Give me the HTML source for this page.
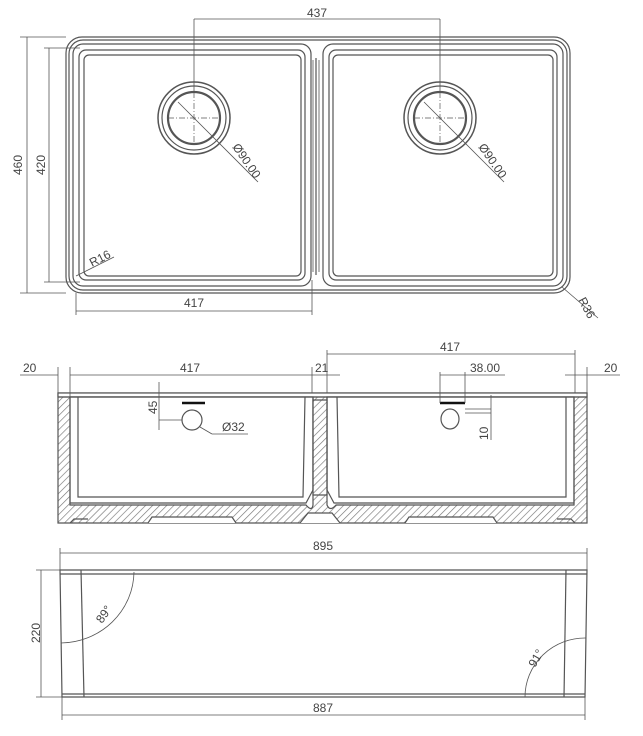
<!DOCTYPE html>
<html><head><meta charset="utf-8"><style>
html,body{margin:0;padding:0;background:#fff}
svg{display:block}
text{font-family:"Liberation Sans",sans-serif;font-size:12px;fill:#444}
</style></head><body>
<svg width="643" height="736" viewBox="0 0 643 736" xmlns="http://www.w3.org/2000/svg">
<defs>
<pattern id="h" width="5" height="5" patternUnits="userSpaceOnUse" patternTransform="rotate(45)">
<rect width="5" height="5" fill="#fff"/><line x1="0" y1="0" x2="0" y2="5" stroke="#777" stroke-width="1.3"/>
</pattern>
</defs>
<g fill="none" stroke="#555" stroke-width="1.2">
<!-- TOP VIEW -->
<rect x="66" y="37" width="504" height="256" rx="16"/>
<rect x="69" y="40" width="498" height="250" rx="14"/>
<rect x="73" y="44" width="238" height="242" rx="10"/>
<rect x="323" y="44" width="240" height="242" rx="10"/>
<rect x="79" y="50" width="226" height="230" rx="7"/>
<rect x="329" y="50" width="228" height="230" rx="7"/>
<rect x="84" y="55" width="217" height="221" rx="5"/>
<rect x="333" y="55" width="220" height="221" rx="5"/>
<line x1="316" y1="58" x2="316" y2="275"/>
<line x1="313" y1="60" x2="313" y2="272" stroke-width="0.8"/>
<line x1="319" y1="60" x2="319" y2="272" stroke-width="0.8"/>
<circle cx="194" cy="118" r="36" stroke-width="1.5"/><circle cx="194" cy="118" r="32"/><circle cx="194" cy="118" r="26" stroke-width="2.2"/>
<circle cx="440" cy="118" r="36" stroke-width="1.5"/><circle cx="440" cy="118" r="32"/><circle cx="440" cy="118" r="26" stroke-width="2.2"/>
<g stroke-width="0.7" stroke-dasharray="6 2 1 2">
<line x1="168" y1="118" x2="220" y2="118"/><line x1="194" y1="92" x2="194" y2="144"/>
<line x1="414" y1="118" x2="466" y2="118"/><line x1="440" y1="92" x2="440" y2="144"/>
</g>
<g stroke-width="0.8">
<line x1="194" y1="19" x2="194" y2="92"/><line x1="440" y1="19" x2="440" y2="92"/>
<line x1="194" y1="19" x2="440" y2="19"/>
<line x1="20" y1="37" x2="66" y2="37"/><line x1="20" y1="293" x2="66" y2="293"/>
<line x1="27" y1="37" x2="27" y2="293"/>
<line x1="44" y1="48" x2="80" y2="48"/><line x1="44" y1="282" x2="80" y2="282"/>
<line x1="49" y1="48" x2="49" y2="282"/>
<line x1="76" y1="293" x2="76" y2="315"/><line x1="312" y1="280" x2="312" y2="315"/>
<line x1="76" y1="311" x2="312" y2="311"/>
<line x1="178" y1="102" x2="258" y2="182"/><line x1="424" y1="102" x2="504" y2="182"/>
<line x1="76" y1="276" x2="114" y2="257"/>
<line x1="562" y1="287" x2="598" y2="318"/>
</g>
<!-- SECTION VIEW -->
<path d="M58 393 H587 V523 H58 Z" fill="url(#h)"/>
<rect x="58" y="393" width="529" height="4" fill="#fff"/>
<path d="M70 397 H313 L313 505 Q312 512 306 505 L70 505 Z" fill="#fff"/>
<path d="M327 397 H574 V505 H336 Q330 512 327 505 Z" fill="#fff"/>
<path d="M313 400 L313 495 L327 495 L327 400 Z" fill="url(#h)"/>
<path d="M70 397 V503 H306 L313 490 V397" />
<path d="M327 397 V490 L334 503 H574 V397"/>
<line x1="58" y1="397" x2="587" y2="397"/>
<path d="M78 397 V497 H303 L305 397"/>
<path d="M337 397 L339 497 H566 V397"/>
<path d="M148 523 L152 517 H232 L236 523" fill="#fff"/>
<path d="M405 523 L409 517 H493 L497 523" fill="#fff"/>
<path d="M300 523 L308 513 H332 L340 523" fill="#fff"/>
<path d="M70 523 L74 519 H88" /><path d="M575 523 L571 519 H557"/>
<line x1="182" y1="403" x2="205" y2="403" stroke="#111" stroke-width="2.5"/>
<line x1="440" y1="403" x2="465" y2="403" stroke="#111" stroke-width="2.5"/>
<circle cx="192" cy="420" r="10"/>
<ellipse cx="450" cy="419" rx="9" ry="10"/>
<g stroke-width="0.8">
<line x1="58" y1="367" x2="58" y2="393"/><line x1="70" y1="367" x2="70" y2="397"/>
<line x1="20" y1="375" x2="58" y2="375"/><line x1="70" y1="375" x2="312" y2="375"/>
<line x1="312" y1="367" x2="312" y2="393"/><line x1="327" y1="350" x2="327" y2="393"/>
<line x1="312" y1="375" x2="340" y2="375"/>
<line x1="327" y1="354" x2="575" y2="354"/><line x1="575" y1="350" x2="575" y2="393"/>
<line x1="587" y1="367" x2="587" y2="393"/><line x1="565" y1="375" x2="620" y2="375"/>
<line x1="440" y1="372" x2="440" y2="403"/><line x1="465" y1="372" x2="465" y2="403"/>
<line x1="440" y1="375" x2="505" y2="375"/>
<line x1="159" y1="382" x2="159" y2="430"/><line x1="159" y1="420" x2="182" y2="420"/>
<line x1="200" y1="427" x2="212" y2="434"/><line x1="212" y1="434" x2="248" y2="434"/>
<line x1="491" y1="395" x2="491" y2="440"/><line x1="465" y1="409" x2="491" y2="409"/><line x1="465" y1="413" x2="491" y2="413"/>
</g>
<!-- BOTTOM VIEW -->
<path d="M60 570 H587 L585 697 H62 Z"/>
<line x1="60" y1="574" x2="587" y2="574"/>
<line x1="62" y1="694" x2="585" y2="694"/>
<line x1="81" y1="570" x2="84" y2="697"/>
<line x1="566" y1="570" x2="564" y2="697"/>
<g stroke-width="0.8">
<line x1="60" y1="548" x2="60" y2="570"/><line x1="587" y1="548" x2="587" y2="570"/>
<line x1="60" y1="553" x2="587" y2="553"/>
<line x1="62" y1="697" x2="62" y2="720"/><line x1="585" y1="697" x2="585" y2="720"/>
<line x1="62" y1="715" x2="585" y2="715"/>
<line x1="36" y1="570" x2="60" y2="570"/><line x1="36" y1="697" x2="62" y2="697"/>
<line x1="41" y1="570" x2="41" y2="697"/>
<path d="M134 572 A74 72 0 0 1 61 643"/>
<path d="M525 697 A60 59 0 0 1 586 638"/>
</g>
</g>
<!-- texts -->
<text x="317" y="17" text-anchor="middle">437</text>
<text transform="translate(22,165) rotate(-90)" text-anchor="middle">460</text>
<text transform="translate(45,165) rotate(-90)" text-anchor="middle">420</text>
<text x="194" y="307" text-anchor="middle">417</text>
<text transform="translate(92,267) rotate(-27)">R16</text>
<text transform="translate(578,300) rotate(62)">R36</text>
<text transform="translate(232,147) rotate(55)">Ø90.00</text>
<text transform="translate(478,147) rotate(55)">Ø90.00</text>
<text x="23" y="372">20</text>
<text x="190" y="372" text-anchor="middle">417</text>
<text x="315" y="372">21</text>
<text x="450" y="351" text-anchor="middle">417</text>
<text x="470" y="372">38.00</text>
<text x="604" y="372">20</text>
<text transform="translate(157,414) rotate(-90)">45</text>
<text x="222" y="431">Ø32</text>
<text transform="translate(488,440) rotate(-90)">10</text>
<text x="323" y="550" text-anchor="middle">895</text>
<text transform="translate(40,633) rotate(-90)" text-anchor="middle">220</text>
<text transform="translate(102,624) rotate(-55)">89°</text>
<text transform="translate(535,668) rotate(-60)">91°</text>
<text x="323" y="712" text-anchor="middle">887</text>
</svg>
</body></html>
